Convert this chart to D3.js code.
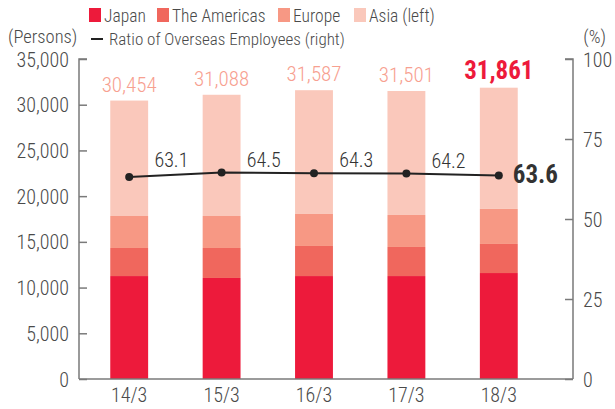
<!DOCTYPE html>
<html>
<head>
<meta charset="utf-8">
<script src="https://cdn.jsdelivr.net/npm/d3@7"></script>
<style>
  body { margin: 0; background: #fff; }
  svg text { font-family: "Liberation Sans Narrow", "Roboto Condensed", "DejaVu Sans Condensed", sans-serif; font-weight: 300; }
</style>
</head>
<body>
<div id="chart"></div>
<script>
// data
var years = ["14/3", "15/3", "16/3", "17/3", "18/3"];
var japan = [11260, 11050, 11260, 11260, 11590];
var americas = [3070, 3280, 3290, 3180, 3180];
var europe = [3500, 3500, 3500, 3500, 3830];
var asia = [12624, 13258, 13537, 13561, 13261];
var totals = [30454, 31088, 31587, 31501, 31861];
var ratio = [63.1, 64.5, 64.3, 64.2, 63.6];
var leftTicks = [0, 5000, 10000, 15000, 20000, 25000, 30000, 35000];
var rightTicks = [0, 25, 50, 75, 100];

var seriesNames = ["Japan", "The Americas", "Europe", "Asia (left)"];
var colors = ["#ed1a3b", "#f0675d", "#f79884", "#fac8bb"];

var W = 615, H = 409;
var svg = d3.select("#chart").append("svg")
    .attr("width", W).attr("height", H);

var x = d3.scaleBand()
    .domain(years)
    .range([83, 545])
    .paddingInner(0.59)
    .paddingOuter(0.295);

var y = d3.scaleLinear().domain([0, 35000]).range([379, 59]);
var y2 = d3.scaleLinear().domain([0, 100]).range([379, 59]);

var rows = years.map(function(yr, i) {
    return { year: yr, japan: japan[i], americas: americas[i], europe: europe[i], asia: asia[i] };
});
var stack = d3.stack().keys(["japan", "americas", "europe", "asia"])(rows);

svg.append("g")
    .selectAll("g")
    .data(stack)
    .enter().append("g")
    .attr("fill", function(d, i) { return colors[i]; })
    .selectAll("rect")
    .data(function(d) { return d; })
    .enter().append("rect")
    .attr("x", function(d) { return x(d.data.year); })
    .attr("width", x.bandwidth())
    .attr("y", function(d) { return y(d[1]); })
    .attr("height", function(d) { return y(d[0]) - y(d[1]); });

// axes
var axisColor = "#7a7a7a";
var textColor = "#4a4a4a";

var gl = svg.append("g").attr("transform", "translate(79,0)")
    .call(d3.axisRight(y).tickValues(leftTicks).tickSize(8).tickFormat(function() { return ""; }));
gl.selectAll("line, path").attr("stroke", axisColor).attr("stroke-width", 1.5);
gl.select(".domain").attr("d", "M8,59H0V379");
svg.append("g").selectAll("text")
    .data(leftTicks).enter().append("text")
    .attr("x", 69)
    .attr("y", function(d) { return y(d); })
    .attr("dy", "0.38em")
    .attr("text-anchor", "end")
    .attr("fill", textColor)
    .attr("font-size", 20)
    .text(d3.format(","));

var gr = svg.append("g").attr("transform", "translate(573,0)")
    .call(d3.axisLeft(y2).tickValues(rightTicks).tickSize(8).tickFormat(function() { return ""; }));
gr.selectAll("line, path").attr("stroke", axisColor).attr("stroke-width", 1.5);
gr.select(".domain").attr("d", "M-8,59H0V379");
svg.append("g").selectAll("text")
    .data(rightTicks).enter().append("text")
    .attr("x", 583)
    .attr("y", function(d) { return y2(d); })
    .attr("dy", "0.38em")
    .attr("fill", textColor)
    .attr("font-size", 20)
    .text(function(d) { return d; });

svg.append("line")
    .attr("x1", 79).attr("x2", 573)
    .attr("y1", 379).attr("y2", 379)
    .attr("stroke", axisColor).attr("stroke-width", 1.5);

svg.append("g").selectAll("text")
    .data(years).enter().append("text")
    .attr("x", function(d) { return x(d) + x.bandwidth() / 2; })
    .attr("y", 402)
    .attr("text-anchor", "middle")
    .attr("fill", textColor)
    .attr("font-size", 20)
    .text(function(d) { return d; });

// totals above bars
svg.append("g").selectAll("text")
    .data(totals).enter().append("text")
    .attr("x", function(d, i) { return x(years[i]) + x.bandwidth() / 2; })
    .attr("y", function(d) { return y(d) - 9; })
    .attr("text-anchor", "middle")
    .attr("fill", function(d, i) { return i == totals.length - 1 ? "#ed1a3b" : "#f7a090"; })
    .attr("font-size", function(d, i) { return i == totals.length - 1 ? 25 : 21; })
    .style("font-weight", function(d, i) { return i == totals.length - 1 ? "bold" : "300"; })
    .text(d3.format(","));

// ratio line
var cx = function(i) { return x(years[i]) + x.bandwidth() / 2; };
var line = d3.line()
    .x(function(d, i) { return cx(i); })
    .y(function(d) { return y2(d); });

svg.append("path")
    .datum(ratio)
    .attr("d", line)
    .attr("fill", "none")
    .attr("stroke", "#222")
    .attr("stroke-width", 2);

svg.append("g").selectAll("circle")
    .data(ratio).enter().append("circle")
    .attr("cx", function(d, i) { return cx(i); })
    .attr("cy", function(d) { return y2(d); })
    .attr("r", 4)
    .attr("fill", "#222");

svg.append("g").selectAll("text")
    .data(ratio).enter().append("text")
    .attr("x", function(d, i) {
        if (i == ratio.length - 1) return cx(i) + 14;
        return (cx(i) + cx(i + 1)) / 2 - 4;
    })
    .attr("y", function(d, i) {
        if (i == ratio.length - 1) return y2(d) + 8;
        return Math.min(y2(d), y2(ratio[i + 1])) - 6;
    })
    .attr("text-anchor", function(d, i) { return i == ratio.length - 1 ? "start" : "middle"; })
    .attr("fill", "#333")
    .attr("font-size", function(d, i) { return i == ratio.length - 1 ? 25 : 20; })
    .style("font-weight", function(d, i) { return i == ratio.length - 1 ? "bold" : "300"; })
    .text(function(d) { return d.toFixed(1); });

// legend
var legendX = [89, 157, 278, 354];
var lg = svg.append("g");
seriesNames.forEach(function(name, i) {
    lg.append("rect")
        .attr("x", legendX[i]).attr("y", 8)
        .attr("width", 12).attr("height", 14)
        .attr("fill", colors[i]);
    lg.append("text")
        .attr("x", legendX[i] + 15).attr("y", 22)
        .attr("fill", textColor)
        .attr("font-size", 17.5)
        .text(name);
});
lg.append("line")
    .attr("x1", 91).attr("x2", 103)
    .attr("y1", 39).attr("y2", 39)
    .attr("stroke", "#222").attr("stroke-width", 2);
lg.append("text")
    .attr("x", 109).attr("y", 45)
    .attr("fill", textColor)
    .attr("font-size", 17)
    .text("Ratio of Overseas Employees (right)");

svg.append("text")
    .attr("x", 8).attr("y", 43)
    .attr("fill", textColor)
    .attr("font-size", 18.5)
    .text("(Persons)");
svg.append("text")
    .attr("x", 606).attr("y", 43)
    .attr("text-anchor", "end")
    .attr("fill", textColor)
    .attr("font-size", 18.5)
    .text("(%)");
</script>
</body>
</html>
